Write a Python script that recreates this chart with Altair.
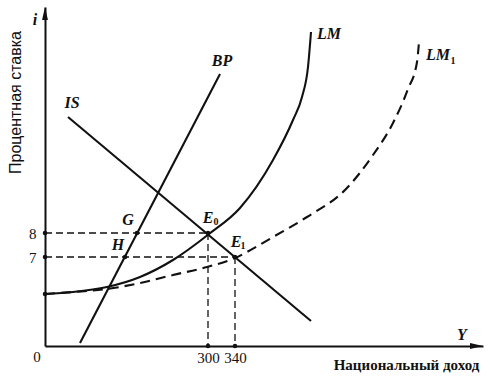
import altair as alt
import pandas as pd

# plot-area size in diagram units (schematic coordinates)
W, H = 438, 339

# curves (schematic units: x = income axis position, y = interest-rate axis position)
is_x = [23, 266]
is_y = [229, 25]
bp_x = [35, 175]
bp_y = [3, 272]
lm_x = [0, 28, 62, 95, 128, 164, 195, 228, 248, 257, 263, 266]
lm_y = [52, 54, 59, 69, 86, 112, 138, 186, 226, 249, 279, 314]
lm1_x = [0, 28, 62, 95, 128, 162, 190, 202, 228, 262, 300, 328, 348, 363, 372, 374]
lm1_y = [52, 54, 57, 63, 71, 79, 88, 94, 109, 129, 156, 191, 223, 257, 284, 304]

# equilibrium levels
x_ticks = [163, 190]
x_tick_labels = ["300", "340"]
y_ticks = [113, 89]
y_tick_labels = ["8", "7"]

# guide (dashed) segments
guide_x = [0, 163, 0, 190, 163, 163, 190, 190]
guide_y = [113, 113, 89, 89, 113, 0, 89, 0]
guide_id = ["a", "a", "b", "b", "c", "c", "d", "d"]

# dots
dot_x = [0, 0, 0, 92, 80, 163, 190, 163, 190]
dot_y = [113, 89, 52, 113, 89, 113, 89, 0, 0]

# italic labels
lab_text = ["i", "IS", "BP", "LM", "LM", "G", "H", "E", "E", "Y"]
lab_x = [-10, 27, 177, 284, 393, 83, 73, 163, 191, 417]
lab_y = [326, 243, 285, 312, 291, 126, 101, 128, 104, 11]
sub_text = ["1", "0", "1"]
sub_x = [408, 171, 198]
sub_y = [285, 124, 100]

INK = "#111111"
SERIF = "Liberation Serif"

xs = alt.Scale(domain=[0, W], nice=False, zero=False)
ys = alt.Scale(domain=[0, H], nice=False, zero=False)


def lab_expr(vals, labels):
    parts = " : ".join(
        f"datum.value == {v} ? '{l}'" for v, l in zip(vals, labels)
    )
    return parts + " : ''"


x_axis = alt.Axis(
    values=x_ticks, labelExpr=lab_expr(x_ticks, x_tick_labels), ticks=False, grid=False,
    domainWidth=2, domainColor=INK, labelFont=SERIF, labelFontSize=15, labelColor=INK,
    labelPadding=4, title="Национальный доход", titleX=361, titleY=18,
    titleFont=SERIF, titleFontSize=15, titleFontWeight="bold", titleColor=INK,
    titleAlign="center", titleBaseline="middle",
)
y_axis = alt.Axis(
    values=y_ticks, labelExpr=lab_expr(y_ticks, y_tick_labels), ticks=False, grid=False,
    domainWidth=2, domainColor=INK, labelFont=SERIF, labelFontSize=15, labelColor=INK,
    labelPadding=9, title="Процентная ставка", titleAngle=270, titleX=-30, titleY=95,
    titleFont="Liberation Sans Narrow, Liberation Sans", titleFontSize=16,
    titleFontWeight="normal", titleColor=INK, titleAlign="center", titleBaseline="middle",
)


def X():
    return alt.X("x:Q", scale=xs, axis=x_axis)


def Y():
    return alt.Y("y:Q", scale=ys, axis=y_axis)


guides = pd.DataFrame({"x": guide_x, "y": guide_y, "g": guide_id})
guide_layer = alt.Chart(guides).mark_line(
    color=INK, strokeWidth=1.3, strokeDash=[7, 4]
).encode(x=X(), y=Y(), detail="g:N")


def curve(xv, yv, **kw):
    df = pd.DataFrame({"x": xv, "y": yv, "o": list(range(len(xv)))})
    return alt.Chart(df).mark_line(color=INK, **kw).encode(x=X(), y=Y(), order="o:Q")


is_layer = curve(is_x, is_y, strokeWidth=2.1)
bp_layer = curve(bp_x, bp_y, strokeWidth=2.1)
lm_layer = curve(lm_x, lm_y, strokeWidth=2.1, interpolate="monotone")
lm1_layer = curve(lm1_x, lm1_y, strokeWidth=2.1, interpolate="monotone", strokeDash=[10, 6])

dots = alt.Chart(pd.DataFrame({"x": dot_x, "y": dot_y})).mark_circle(
    color=INK, size=20, opacity=1
).encode(x=X(), y=Y())

arrows = alt.Chart(pd.DataFrame({
    "x": [0, W - 6.5], "y": [H - 6.5, 0],
    "s": ["M0,-1L-0.45,1L0.45,1Z", "M1,0L-1,-0.45L-1,0.45Z"],
})).mark_point(filled=True, color=INK, opacity=1, size=169).encode(
    x=X(), y=Y(), shape=alt.Shape("s:N", scale=None),
)

labels = alt.Chart(pd.DataFrame({"x": lab_x, "y": lab_y, "t": lab_text})).mark_text(
    font=SERIF, fontSize=16, fontStyle="italic", fontWeight="bold", color=INK,
    align="center", baseline="middle"
).encode(x=X(), y=Y(), text="t:N")

subs = alt.Chart(pd.DataFrame({"x": sub_x, "y": sub_y, "t": sub_text})).mark_text(
    font=SERIF, fontSize=10, fontWeight="bold", color=INK, align="center", baseline="middle"
).encode(x=X(), y=Y(), text="t:N")

origin = alt.Chart(pd.DataFrame({"x": [-8], "y": [-11], "t": ["0"]})).mark_text(
    font=SERIF, fontSize=15, color=INK, align="center", baseline="middle"
).encode(x=X(), y=Y(), text="t:N")

chart = alt.layer(
    guide_layer, is_layer, bp_layer, lm_layer, lm1_layer, dots, arrows, labels, subs, origin
).properties(
    width=W, height=H,
    autosize=alt.AutoSizeParams(type="none"),
    padding={"left": 45, "top": 7, "right": 7, "bottom": 30},
    background="white",
).configure_view(stroke=None)

chart.save("out.html", embed_options={"renderer": "svg", "actions": False})
